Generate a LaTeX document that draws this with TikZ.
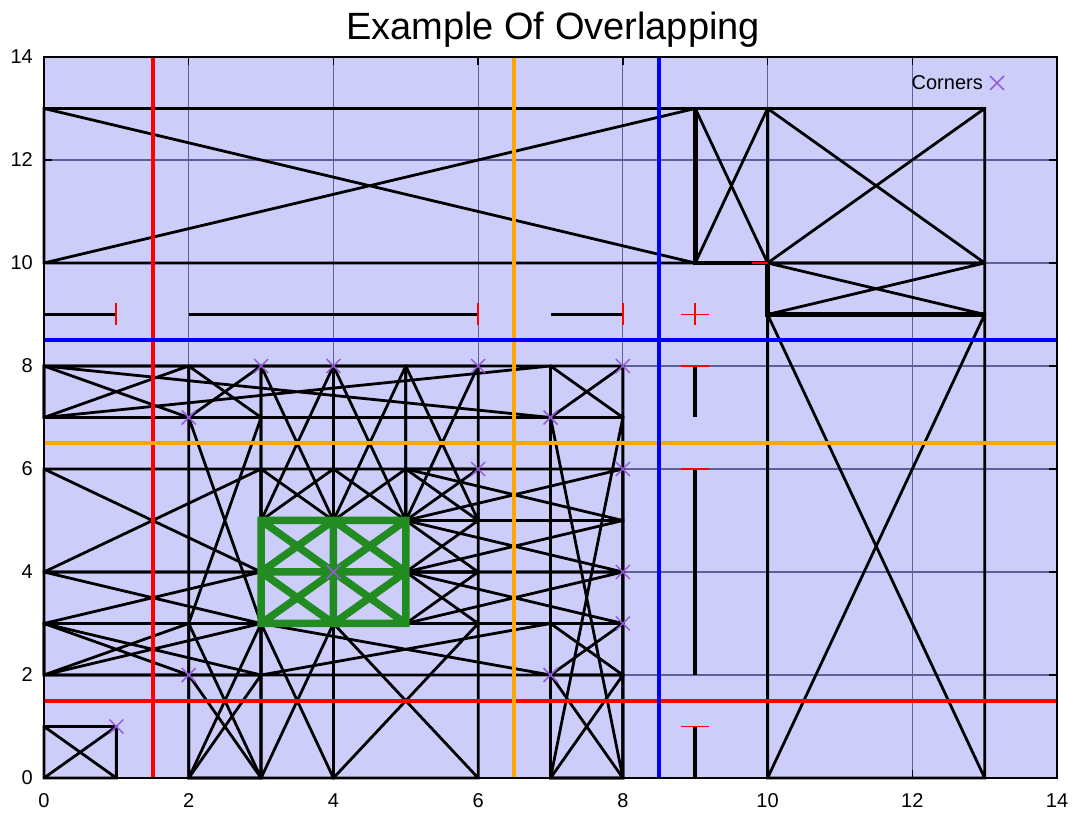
\documentclass[tikz,border=0pt]{standalone}
\usepackage{fontspec}
\setmainfont{Liberation Sans}
\definecolor{bgl}{RGB}{205,205,250}
\definecolor{gridc}{RGB}{95,95,155}
\definecolor{orng}{RGB}{255,165,0}
\definecolor{grn}{RGB}{34,139,34}
\definecolor{purp}{RGB}{150,90,220}
\newcommand\xbox[4]{\draw[rectline] (#1,#2) rectangle (#3,#4) (#1,#2) -- (#3,#4) (#1,#4) -- (#3,#2);}
\newcommand\xpair[4]{\xbox{#1}{#2}{#3}{#4}\xbox{#2}{#1}{#4}{#3}}
\newcommand\cmark[2]{\draw[cornermark] ([xshift=-7pt,yshift=-7pt]#1,#2) -- ([xshift=7pt,yshift=7pt]#1,#2) ([xshift=-7pt,yshift=7pt]#1,#2) -- ([xshift=7pt,yshift=-7pt]#1,#2);}
\begin{document}
\begin{tikzpicture}[x=72.36pt,y=51.5pt,
  rectline/.style={line width=2.8pt,black},
  thickline/.style={line width=4.6pt,black},
  gridline/.style={line width=1.2pt,gridc},
  errbar/.style={line width=3.6pt,black},
  redtick/.style={line width=1.8pt,red},
  colline/.style={line width=4pt},
  greenline/.style={line width=7.5pt,grn},
  cornermark/.style={line width=1.5pt,purp},
  ticklabel/.style={font=\fontsize{20}{24}\selectfont,inner sep=0pt}]
\useasboundingbox (-44pt,-38pt) rectangle (1033pt,778pt);
% background and grid
\fill[bgl] (0,0) rectangle (14,14);
\foreach \v in {2,4,...,12} {
  \draw[gridline] (\v,0) -- (\v,14);
  \draw[gridline] (0,\v) -- (14,\v);
}
% rectangles with diagonals
\xbox{0}{0}{1}{1}
\xbox{7}{7}{8}{8}
\xbox{5}{5}{6}{6}
\xbox{10}{10}{13}{13}
\xpair{0}{7}{2}{8}
\xpair{0}{7}{7}{8}
\xpair{2}{7}{3}{8}
\xpair{3}{5}{4}{8}
\xpair{4}{5}{5}{8}
\xpair{5}{5}{6}{8}
\xpair{0}{4}{3}{6}
\xpair{2}{3}{3}{7}
\xpair{0}{3}{3}{4}
\xpair{3}{5}{4}{6}
\xpair{4}{5}{5}{6}
\xpair{0}{2}{2}{3}
\xpair{0}{2}{3}{3}
\xpair{0}{10}{9}{13}
\xpair{9}{10}{10}{13}
% thick outline
\draw[thickline] (9,13) -- (9,10) -- (10,10) -- (10,9) -- (13,9);
% interval bars
\draw[errbar] (0,9) -- (1,9) (2,9) -- (6,9) (7,9) -- (8,9)
  (9,0) -- (9,1) (9,2) -- (9,6) (9,7) -- (9,8);
% coloured lines
\draw[colline,red] (1.5,0) -- (1.5,14) (0,1.5) -- (14,1.5);
\draw[colline,orng] (6.5,0) -- (6.5,14) (0,6.5) -- (14,6.5);
\draw[colline,blue] (8.5,0) -- (8.5,14) (0,8.5) -- (14,8.5);
% green block
\draw[greenline] (3,3) rectangle (5,5) (4,3) -- (4,5) (3,4) -- (5,4)
  (3,3) -- (4,4) (3,4) -- (4,3) (4,3) -- (5,4) (4,4) -- (5,3)
  (3,4) -- (4,5) (3,5) -- (4,4) (4,4) -- (5,5) (4,5) -- (5,4);
% red ticks
\foreach \u in {1,6,8} {
  \draw[redtick] ([yshift=-11pt]\u,9) -- ([yshift=11pt]\u,9);
  \draw[redtick] ([xshift=-14pt]9,\u) -- ([xshift=14pt]9,\u);
}
\draw[redtick] ([yshift=-11pt]9,9) -- ([yshift=11pt]9,9) ([xshift=-14pt]9,9) -- ([xshift=14pt]9,9);
\draw[redtick] ([xshift=-16pt]10,10) -- (10,10);
% corner marks
\cmark{1}{1}\cmark{2}{2}\cmark{4}{4}\cmark{6}{6}\cmark{7}{7}\cmark{8}{8}
\cmark{2}{7}\cmark{7}{2}\cmark{3}{8}\cmark{8}{3}\cmark{4}{8}\cmark{8}{4}
\cmark{6}{8}\cmark{8}{6}
% frame and ticks
\draw[line width=1.8pt] (0,0) rectangle (14,14);
\foreach \v in {2,4,...,12} {
  \draw[line width=1.4pt] (\v,0) -- ++(0,8pt) (\v,14) -- ++(0,-8pt)
    (0,\v) -- ++(8pt,0) (14,\v) -- ++(-8pt,0);
}
\foreach \v in {0,2,...,14} {
  \node[ticklabel,anchor=base] (xl\v) at ([yshift=-30pt]\v,0) {\v};
  \node[ticklabel,anchor=east] (yl\v) at ([xshift=-11pt]0,\v) {\v};
}
% title and legend
\node[font=\fontsize{38}{44}\selectfont,anchor=base,inner sep=0pt] (title) at (509pt,738pt) {Example Of Overlapping};
\node[ticklabel,anchor=east] (legtext) at (939pt,695pt) {Corners};
\draw[cornermark] (946pt,688pt) -- (960pt,702pt) (946pt,702pt) -- (960pt,688pt);
\end{tikzpicture}
\end{document}
